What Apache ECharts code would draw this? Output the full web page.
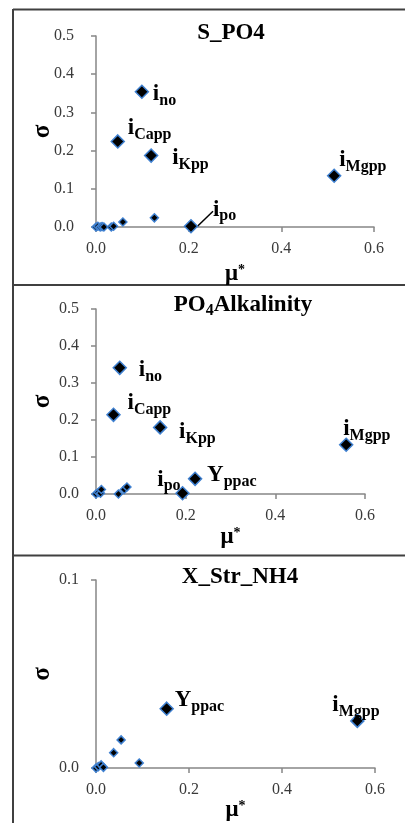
<!DOCTYPE html>
<html>
<head>
<meta charset="utf-8">
<title>Morris screening</title>
<script src="https://cdn.jsdelivr.net/npm/echarts@6/dist/echarts.min.js"></script>
<style>body{margin:0;background:#fff}</style>
</head>
<body>
<div id="main" style="width:405px;height:823px"></div>
<script type="text/javascript">
// panel 1: S_PO4
var p1KeyBase  = ['i', 'i', 'i', 'i', 'i'];
var p1KeyNames = ['no', 'Capp', 'Kpp', 'Mgpp', 'po'];
var p1KeyMu    = [0.099, 0.047, 0.119, 0.514, 0.205];
var p1KeySigma = [0.354, 0.224, 0.187, 0.134, 0.002];
var p1OtherMu    = [0.000, 0.004, 0.009, 0.013, 0.017, 0.033, 0.038, 0.058, 0.126];
var p1OtherSigma = [0.000, 0.002, 0.000, 0.001, 0.000, 0.000, 0.002, 0.013, 0.024];

// panel 2: PO4 alkalinity
var p2KeyBase  = ['i', 'i', 'i', 'i', 'i', 'Y'];
var p2KeyNames = ['no', 'Capp', 'Kpp', 'Mgpp', 'po', 'ppac'];
var p2KeyMu    = [0.053, 0.039, 0.143, 0.558, 0.193, 0.221];
var p2KeySigma = [0.341, 0.214, 0.180, 0.133, 0.002, 0.041];
var p2OtherMu    = [0.000, 0.005, 0.010, 0.012, 0.050, 0.063, 0.069];
var p2OtherSigma = [0.000, 0.004, 0.002, 0.012, 0.000, 0.012, 0.019];

// panel 3: X_Str_NH4
var p3KeyBase  = ['Y', 'i'];
var p3KeyNames = ['ppac', 'Mgpp'];
var p3KeyMu    = [0.152, 0.562];
var p3KeySigma = [0.0316, 0.0251];
var p3OtherMu    = [0.000, 0.005, 0.011, 0.016, 0.038, 0.054, 0.093];
var p3OtherSigma = [0.0000, 0.0008, 0.0017, 0.0004, 0.0082, 0.0150, 0.0027];

var xTicks = [0, 0.6, 0.2];   // min, max, step
var yTicks = [[0, 0.5, 0.1], [0, 0.5, 0.1], [0, 0.1, 0.1]];

// label shift from marker centre (label is left-middle anchored unless 3rd entry)
var offsets = [
    {no: [11, 4], Capp: [10, -12], Kpp: [21, 4], Mgpp: [5, -14], po: [22, -15]},
    {no: [19, 4], Capp: [14, -10], Kpp: [19, 6], Mgpp: [-3, -14], po: [-2, -12, 'right'], ppac: [12, -2]},
    {ppac: [8, -7], Mgpp: [-25, -14]}
];

var serif = 'Liberation Serif';
var blue = '#3f80d0';
var labelRich = {
    m: {fontFamily: serif, fontWeight: 'bold', fontSize: 23, color: '#000', padding: [0, 0, 3, 0], verticalAlign: 'bottom'},
    s: {fontFamily: serif, fontWeight: 'bold', fontSize: 16, color: '#000', verticalAlign: 'bottom'}
};

function zip(a, b) {
    return a.map(function (v, i) { return [v, b[i]]; });
}

function keyData(p, bases, names, mu, sigma) {
    return names.map(function (n, i) {
        var o = offsets[p][n];
        var item = {
            name: n,
            value: [mu[i], sigma[i]],
            label: {
                show: true,
                position: 'inside',
                align: o[2] || 'left',
                verticalAlign: 'middle',
                formatter: '{m|' + bases[i] + '}{s|' + n + '}',
                rich: labelRich
            }
        };
        if ((p === 0 && n === 'po') || (p === 2 && n === 'Mgpp')) {
            item.labelLine = {show: true, lineStyle: {color: '#000', width: 1.5}};
        }
        return item;
    });
}

var axisLineStyle = {color: '#868686', width: 1.5};

function makeX(gi, gap) {
    return {
        gridIndex: gi, type: 'value',
        min: xTicks[0], max: xTicks[1], interval: xTicks[2],
        axisLine: {show: true, lineStyle: axisLineStyle},
        axisTick: {show: true, length: 5, lineStyle: axisLineStyle},
        splitLine: {show: false},
        axisLabel: {fontFamily: serif, fontSize: 16, color: '#3a3a3a', margin: 14,
            formatter: function (v) { return v.toFixed(1); }},
        name: '{a|\u03bc}{b|*}', nameLocation: 'middle', nameGap: gap,
        nameTextStyle: {rich: {
            a: {fontFamily: serif, fontWeight: 'bold', fontSize: 23, color: '#000'},
            b: {fontFamily: serif, fontWeight: 'bold', fontSize: 14, color: '#000', verticalAlign: 'top'}
        }}
    };
}

function makeY(gi, t, margin) {
    return {
        gridIndex: gi, type: 'value',
        min: t[0], max: t[1], interval: t[2],
        axisLine: {show: true, lineStyle: axisLineStyle},
        axisTick: {show: true, length: 5, lineStyle: axisLineStyle},
        splitLine: {show: false},
        axisLabel: {fontFamily: serif, fontSize: 16, color: '#3a3a3a', margin: margin,
            formatter: function (v) { return v.toFixed(1); }},
        name: '\u03c3', nameLocation: 'middle', nameGap: 41, nameRotate: 90,
        nameMoveOverlap: false,
        nameTextStyle: {fontFamily: serif, fontWeight: 'bold', fontSize: 25, color: '#000'}
    };
}

function otherSeries(gi, mu, sigma) {
    return {
        type: 'scatter', xAxisIndex: gi, yAxisIndex: gi,
        symbol: 'diamond', symbolSize: 8,
        itemStyle: {color: '#000', borderColor: blue, borderWidth: 1.5, opacity: 1},
        data: zip(mu, sigma), z: 2
    };
}

function keySeries(gi, names, data) {
    return {
        type: 'scatter', xAxisIndex: gi, yAxisIndex: gi,
        symbol: 'diamond', symbolSize: 13,
        itemStyle: {color: '#000', borderColor: blue, borderWidth: 1.5, opacity: 1},
        data: data, z: 3,
        labelLayout: function (params) {
            var o = offsets[gi][names[params.dataIndex]];
            return {dx: o[0], dy: o[1]};
        }
    };
}

var titleStyle = {fontFamily: serif, fontWeight: 'bold', fontSize: 23, color: '#000'};
var frame = {stroke: '#404040', lineWidth: 2};

var myChart = echarts.init(document.getElementById('main'));

var option = {
    backgroundColor: '#fff',
    animation: false,
    title: [
        {text: 'S_PO4', left: 231, top: 22, textAlign: 'center', padding: 0, textStyle: titleStyle},
        {text: '{a|PO}{b|4}{a|Alkalinity}', left: 243, top: 291, textAlign: 'center', padding: 0,
            textStyle: {rich: {
                a: titleStyle,
                b: {fontFamily: serif, fontWeight: 'bold', fontSize: 16, color: '#000', padding: [12, 0, 0, 0]}
            }}},
        {text: 'X_Str_NH4', left: 240, top: 566, textAlign: 'center', padding: 0, textStyle: titleStyle}
    ],
    grid: [
        {left: 96, top: 36, width: 278, height: 191},
        {left: 96, top: 309, width: 269, height: 185},
        {left: 96, top: 580, width: 279, height: 195}
    ],
    xAxis: [makeX(0, 36), makeX(1, 32), makeX(2, 23)],
    yAxis: [makeY(0, yTicks[0], 22), makeY(1, yTicks[1], 17), makeY(2, yTicks[2], 17)],
    series: [
        otherSeries(0, p1OtherMu, p1OtherSigma),
        keySeries(0, p1KeyNames, keyData(0, p1KeyBase, p1KeyNames, p1KeyMu, p1KeySigma)),
        otherSeries(1, p2OtherMu, p2OtherSigma),
        keySeries(1, p2KeyNames, keyData(1, p2KeyBase, p2KeyNames, p2KeyMu, p2KeySigma)),
        otherSeries(2, p3OtherMu, p3OtherSigma),
        keySeries(2, p3KeyNames, keyData(2, p3KeyBase, p3KeyNames, p3KeyMu, p3KeySigma))
    ],
    graphic: [
        {type: 'line', shape: {x1: 13, y1: 9, x2: 13, y2: 823}, style: frame},
        {type: 'line', shape: {x1: 13, y1: 9.5, x2: 405, y2: 9.5}, style: frame},
        {type: 'line', shape: {x1: 13, y1: 285, x2: 405, y2: 285}, style: frame},
        {type: 'line', shape: {x1: 13, y1: 555.5, x2: 405, y2: 555.5}, style: frame}
    ]
};

myChart.setOption(option);
</script>
</body>
</html>
